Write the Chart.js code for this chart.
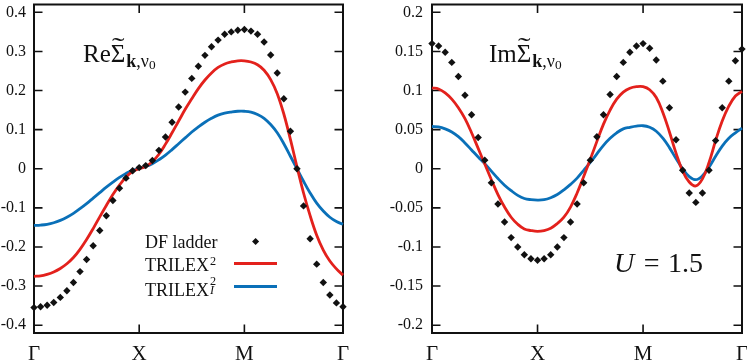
<!DOCTYPE html>
<html><head><meta charset="utf-8">
<script src="https://cdn.jsdelivr.net/npm/chart.js@4.4.1/dist/chart.umd.min.js"></script>
<style>
html,body{margin:0;padding:0;background:#fff;overflow:hidden;width:747px;height:362px;}
#wrap{position:relative;width:747px;height:362px;overflow:hidden;}
canvas{position:absolute;top:0;}
.t{position:absolute;font-family:"Liberation Serif","Times New Roman","DejaVu Serif",serif;color:#111;white-space:nowrap;line-height:1;}
.ttl{font-size:25px;}
.sg{position:relative;display:inline-block;}
.tl{position:absolute;left:0;width:100%;text-align:center;top:-0.30em;transform:scaleX(1.5);}
.sb{position:relative;top:0.25em;font-size:0.72em;margin-left:1px;}
.sb2{position:relative;top:0.2em;font-size:0.74em;}
.lg{font-size:18px;}
.sup{position:relative;top:-0.45em;font-size:0.68em;margin-left:1px;}
.stack{display:inline-block;position:relative;width:0.5em;height:1em;vertical-align:baseline;}
.stack .a{position:absolute;left:1px;top:-0.2em;font-size:0.68em;}
.stack .b{position:absolute;left:1px;top:0.55em;font-size:0.68em;font-style:italic;}
.eq{display:inline-block;margin:0 0.3em 0 0.34em;}
.key{position:absolute;}
</style></head><body>
<div id="wrap">
<canvas id="cl" width="380" height="362" style="left:0;width:380px;height:362px"></canvas>
<canvas id="cr" width="367" height="362" style="left:380px;width:367px;height:362px"></canvas>

<div class="t ttl" style="left:83px;top:41px">Re<span class="sg">Σ<span class="tl">˜</span></span><span class="sb"><b>k</b>,ν<span class="sb2">0</span></span></div>
<div class="t ttl" style="left:489px;top:41px">Im<span class="sg">Σ<span class="tl">˜</span></span><span class="sb"><b>k</b>,ν<span class="sb2">0</span></span></div>
<div class="t" style="left:614px;top:249px;font-size:28px"><i>U</i><span class="eq">=</span>1.5</div>

<div class="t lg" id="lg0" style="left:145px;top:233px"></div>
<div class="t lg" id="lg1" style="left:145px;top:255.5px"></div>
<div class="t lg" id="lg2" style="left:145px;top:277.5px"></div>
<div class="key" id="k0" style="left:253px;top:239px;width:5.2px;height:5.2px;transform:rotate(45deg);"></div>
<div class="key" id="k1" style="left:234px;top:262px;width:43px;height:3px;"></div>
<div class="key" id="k2" style="left:234px;top:284.5px;width:43px;height:3px;"></div>
</div>
<script>
// ---- data ----
const kIndex = [0,1,2,3,4,5,6,7,8,9,10,11,12,13,14,15,16,17,18,19,20,21,22,23,24,25,26,27,28,29,30,31,32,33,34,35,36,37,38,39,40,41,42,43,44,45,46,47];
const xTickPos = [0, 16, 32, 47];
const xTickLabels = ['Γ', 'X', 'M', 'Γ'];

const yTicksRe = [-0.4,-0.3,-0.2,-0.1,0,0.1,0.2,0.3,0.4];
const yLabelsRe = ['-0.4','-0.3','-0.2','-0.1','0','0.1','0.2','0.3','0.4'];
const yTicksIm = [-0.2,-0.15,-0.1,-0.05,0,0.05,0.1,0.15,0.2];
const yLabelsIm = ['-0.2','-0.15','-0.1','-0.05','0','0.05','0.1','0.15','0.2'];

const seriesNames = ['DF ladder', 'TRILEX²', 'TRILEX²_I'];

const dfRe = [-0.355,-0.353,-0.349,-0.342,-0.329,-0.312,-0.291,-0.263,-0.232,-0.197,-0.158,-0.120,-0.081,-0.050,-0.024,-0.005,0.003,0.008,0.021,0.047,0.081,0.119,0.158,0.196,0.231,0.262,0.290,0.312,0.329,0.344,0.350,0.354,0.356,0.352,0.344,0.324,0.291,0.245,0.179,0.096,0.000,-0.095,-0.179,-0.244,-0.291,-0.323,-0.343,-0.353];
const trilexRe = [-0.275,-0.274,-0.270,-0.264,-0.255,-0.243,-0.227,-0.206,-0.181,-0.153,-0.123,-0.094,-0.066,-0.042,-0.021,-0.007,0.000,0.006,0.018,0.037,0.063,0.092,0.122,0.152,0.179,0.205,0.227,0.245,0.259,0.268,0.273,0.276,0.276,0.273,0.266,0.252,0.228,0.192,0.140,0.075,0.005,-0.062,-0.120,-0.170,-0.208,-0.236,-0.256,-0.272];
const trilexIRe = [-0.145,-0.144,-0.142,-0.138,-0.132,-0.124,-0.114,-0.102,-0.089,-0.075,-0.061,-0.047,-0.034,-0.022,-0.012,-0.004,0.001,0.006,0.013,0.023,0.035,0.049,0.064,0.079,0.094,0.107,0.119,0.129,0.137,0.142,0.145,0.147,0.147,0.145,0.139,0.129,0.113,0.092,0.064,0.032,0.000,-0.032,-0.062,-0.088,-0.108,-0.124,-0.135,-0.142];

const dfIm = [0.160,0.157,0.149,0.136,0.118,0.094,0.069,0.040,0.011,-0.018,-0.045,-0.068,-0.088,-0.100,-0.110,-0.115,-0.117,-0.115,-0.110,-0.100,-0.088,-0.068,-0.045,-0.018,0.011,0.041,0.069,0.095,0.118,0.136,0.149,0.157,0.160,0.154,0.139,0.112,0.078,0.037,-0.002,-0.031,-0.043,-0.031,-0.002,0.036,0.078,0.112,0.138,0.153];
const trilexIm = [0.1035,0.102,0.097,0.089,0.078,0.064,0.046,0.026,0.006,-0.014,-0.033,-0.049,-0.062,-0.071,-0.077,-0.079,-0.080,-0.079,-0.076,-0.070,-0.062,-0.049,-0.031,-0.010,0.012,0.035,0.057,0.075,0.089,0.098,0.103,0.105,0.105,0.101,0.091,0.072,0.047,0.020,-0.003,-0.017,-0.022,-0.013,0.008,0.036,0.061,0.080,0.093,0.099];
const trilexIIm = [0.054,0.0535,0.051,0.047,0.041,0.033,0.024,0.015,0.0065,-0.003,-0.0125,-0.021,-0.028,-0.034,-0.038,-0.0395,-0.040,-0.0395,-0.037,-0.033,-0.027,-0.020,-0.012,-0.002,0.008,0.019,0.030,0.039,0.046,0.051,0.053,0.0545,0.055,0.053,0.048,0.039,0.027,0.013,0.000,-0.010,-0.014,-0.009,0.002,0.016,0.029,0.039,0.046,0.052];

// ---- styles ----
const RED = '#e3211c', BLUE = '#0a70b8', INK = '#111';
const FONT = '"Liberation Serif", "Times New Roman", "DejaVu Serif", serif';

// legend (html text)
document.getElementById('lg0').textContent = seriesNames[0];
document.getElementById('lg1').innerHTML = 'TRILEX<span class="sup">2</span>';
document.getElementById('lg2').innerHTML = 'TRILEX<span class="stack"><span class="a">2</span><span class="b">I</span></span>';
document.getElementById('k0').style.background = INK;
document.getElementById('k1').style.background = RED;
document.getElementById('k2').style.background = BLUE;

const framePlugin = {
  id: 'frame',
  beforeDatasetsDraw(chart) {
    const {ctx, chartArea: a, scales: {x, y}} = chart;
    ctx.save();
    ctx.strokeStyle = INK;
    ctx.lineWidth = 1.6;
    const L = 8.5;
    ctx.beginPath();
    y.ticks.forEach(t => {
      const p = y.getPixelForValue(t.value);
      ctx.moveTo(a.left, p); ctx.lineTo(a.left + L, p);
      ctx.moveTo(a.right, p); ctx.lineTo(a.right - L, p);
    });
    x.ticks.forEach(t => {
      const p = x.getPixelForValue(t.value);
      ctx.moveTo(p, a.bottom); ctx.lineTo(p, a.bottom - L);
      ctx.moveTo(p, a.top); ctx.lineTo(p, a.top + L);
    });
    ctx.stroke();
    ctx.lineWidth = 2;
    ctx.strokeRect(a.left, a.top, a.right - a.left, a.bottom - a.top);
    ctx.restore();
  }
};

function pts(arr) { return arr.map((v, i) => ({x: kIndex[i], y: v})); }

function makeChart(id, df, tr, trI, yTicks, yLabels, yMin, yMax, yWidth, padRight, labelPad) {
  return new Chart(document.getElementById(id), {
    type: 'line',
    data: {
      datasets: [
        {label: seriesNames[0], data: pts(df), showLine: false, pointStyle: 'rectRot', pointRadius: 3.7,
         pointBackgroundColor: INK, pointBorderWidth: 0, borderColor: INK, clip: false},
        {label: seriesNames[1], data: pts(tr), borderColor: RED, borderWidth: 2.8, pointRadius: 0,
         tension: 0.4, clip: false},
        {label: seriesNames[2], data: pts(trI), borderColor: BLUE, borderWidth: 2.8, pointRadius: 0,
         tension: 0.4, clip: false}
      ]
    },
    options: {
      responsive: false, animation: false, devicePixelRatio: 1, events: [],
      layout: {padding: {left: 0, right: padRight, top: 4.5, bottom: 0}},
      plugins: {legend: {display: false}, tooltip: {enabled: false}},
      scales: {
        x: {
          type: 'linear', min: 0, max: 47,
          afterBuildTicks: s => { s.ticks = xTickPos.map(v => ({value: v})); },
          afterFit: s => { s.height = 29; s.paddingLeft = 0; s.paddingRight = 0; },
          grid: {display: false, drawTicks: false}, border: {display: false},
          ticks: {autoSkip: false, maxRotation: 0, padding: 9, color: INK,
                  font: {family: FONT, size: 21}, callback: (v, i) => xTickLabels[i]}
        },
        y: {
          type: 'linear', min: yMin, max: yMax,
          afterBuildTicks: s => { s.ticks = yTicks.map(v => ({value: v})); },
          afterFit: s => { s.width = yWidth; s.paddingTop = 0; s.paddingBottom = 0; },
          grid: {display: false, drawTicks: false}, border: {display: false},
          ticks: {autoSkip: false, padding: labelPad, color: INK,
                  font: {family: FONT, size: 16}, callback: (v, i) => yLabels[i]}
        }
      }
    },
    plugins: [framePlugin]
  });
}

makeChart('cl', dfRe, trilexRe, trilexIRe, yTicksRe, yLabelsRe, -0.42, 0.42, 34, 37, 8);
makeChart('cr', dfIm, trilexIm, trilexIIm, yTicksIm, yLabelsIm, -0.21, 0.21, 52, 5, 9);
</script>
</body></html>
